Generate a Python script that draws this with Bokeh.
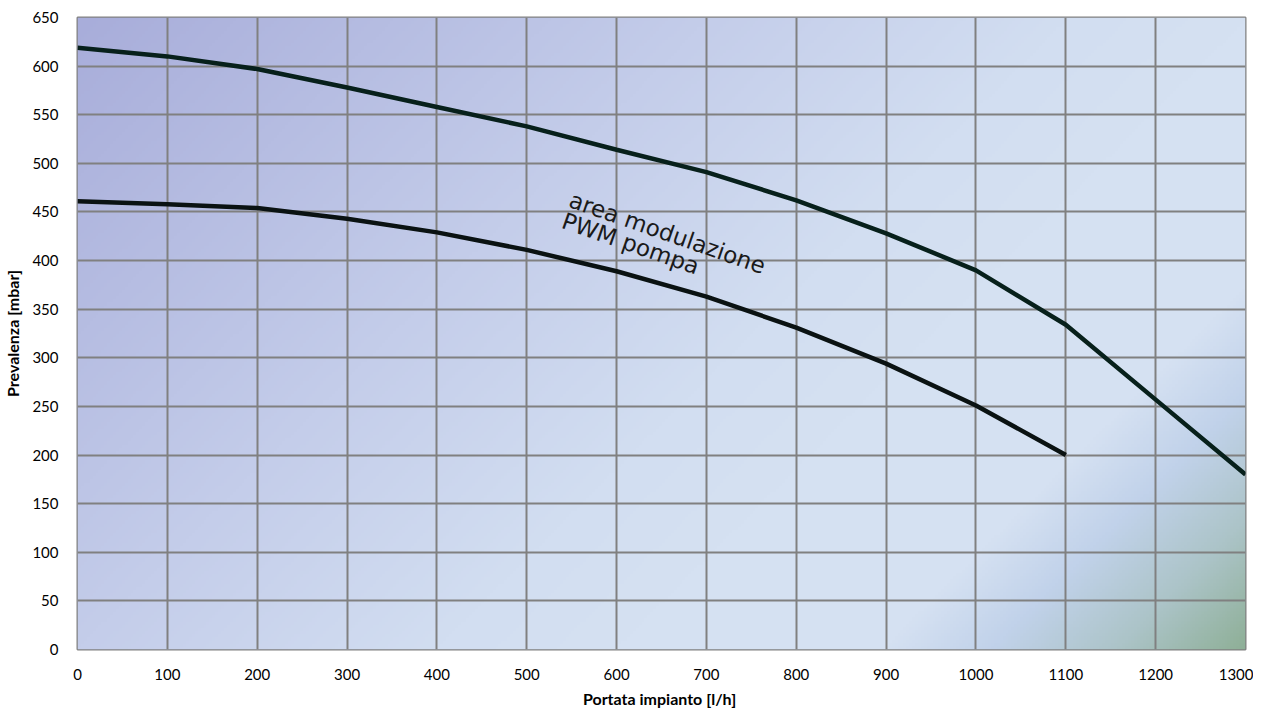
import numpy as np
from bokeh.plotting import figure
from bokeh.models import FixedTicker
from bokeh.core.properties import value
from bokeh.embed import file_html
from bokeh.resources import INLINE

# data
flow_upper = [0, 100, 200, 300, 400, 500, 600, 700, 800, 900, 1000, 1100, 1200, 1300]
head_upper = [619, 610, 597, 578, 558, 538, 514, 491, 462, 428, 390, 334, 257, 180]
flow_lower = [0, 100, 200, 300, 400, 500, 600, 700, 800, 900, 1000, 1100]
head_lower = [461, 458, 454, 443, 429, 411, 389, 363, 331, 294, 251, 200]
x_ticks = list(range(0, 1301, 100))
y_ticks = list(range(0, 651, 50))
note = "area modulazione\nPWM pompa"

p = figure(frame_width=1168, frame_height=632, x_range=(0, 1300), y_range=(0, 650),
           output_backend="svg", toolbar_location=None,
           min_border_left=60, min_border_right=8, min_border_top=17, min_border_bottom=44,
           background_fill_color="white", border_fill_color="white")

# background gradient (style only)
H, W = 200, 400
yy, xx = np.mgrid[0:H, 0:W]
u = xx / (W - 1)            # 0 left -> 1 right
top = yy / (H - 1)          # row 0 at y=0 (bottom) -> 1 top
t = (u * 1168 + (1 - top) * 632) / (1168 + 632)
stops_t = [0.0, 0.35, 0.55, 0.65, 0.8, 0.86, 0.93, 1.0]
stops_c = np.array([[168, 173, 218], [196, 205, 234], [210, 222, 241], [213, 225, 242],
                    [213, 225, 242], [193, 210, 234], [172, 196, 200], [143, 176, 152]])
img = np.empty((H, W), dtype=np.uint32)
view = img.view(dtype=np.uint8).reshape((H, W, 4))
for k in range(3):
    view[:, :, k] = np.interp(t, stops_t, stops_c[:, k]).astype(np.uint8)
view[:, :, 3] = 255
bg = p.image_rgba(image=[img], x=0, y=0, dw=1300, dh=650)
bg.level = "image"

p.line(flow_upper, head_upper, line_color="#07201b", line_width=4.5)
p.line(flow_lower, head_lower, line_color="#0a1212", line_width=4.5)

p.text(x=[553], y=[476], text=[note], angle=-0.335, text_font=value("DejaVu Sans"),
       text_font_size="23px", text_color="#1a1a1a", text_align="left",
       text_baseline="top", text_line_height=0.85)

for ax in (p.xaxis, p.yaxis):
    ax.axis_line_color = None
    ax.major_tick_line_color = None
    ax.minor_tick_line_color = None
    ax.major_label_text_font = "Lato"
    ax.major_label_text_font_size = "15px"
    ax.major_label_text_color = "black"
    ax.axis_label_text_font = "Lato"
    ax.axis_label_text_font_style = "bold"
    ax.axis_label_text_font_size = "16px"
    ax.axis_label_text_color = "black"

p.xaxis.ticker = FixedTicker(ticks=x_ticks)
p.yaxis.ticker = FixedTicker(ticks=y_ticks)
p.xaxis.axis_label = "Portata impianto  [l/h]"
p.yaxis.axis_label = "Prevalenza [mbar]"
p.xaxis.major_label_standoff = 13
p.yaxis.major_label_standoff = 13
p.xaxis.axis_label_standoff = 6
p.yaxis.axis_label_standoff = 7

p.xgrid.ticker = FixedTicker(ticks=x_ticks)
p.ygrid.ticker = FixedTicker(ticks=y_ticks)
for gr in (p.xgrid, p.ygrid):
    gr.grid_line_color = "#808080"
    gr.grid_line_width = 2
    gr.grid_line_alpha = 1

p.outline_line_color = "#808080"
p.outline_line_width = 2

open("out.html", "w").write(file_html(p, INLINE))
